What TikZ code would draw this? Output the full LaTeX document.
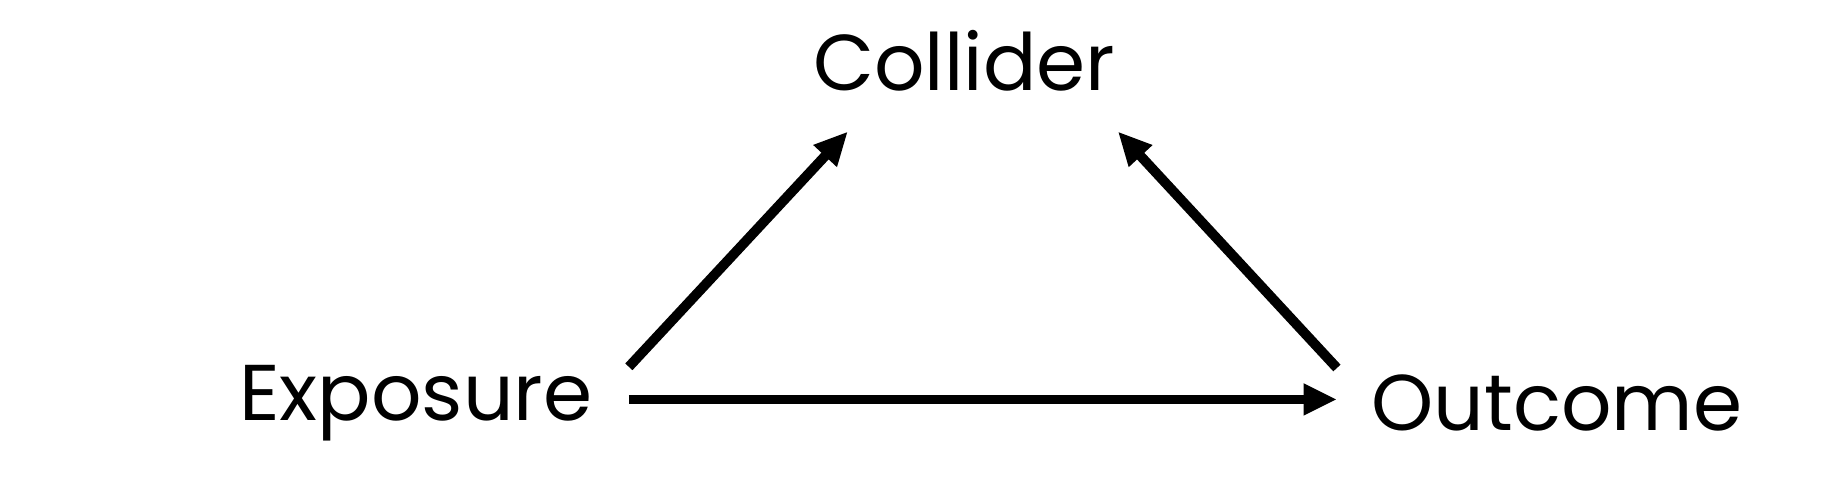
\documentclass[tikz,border=0pt]{standalone}
\usepackage{fontspec}
\setmainfont{Poppins}
\usetikzlibrary{positioning,arrows.meta}

\begin{document}
\begin{tikzpicture}[x=0.02329cm,y=-0.02329cm,
    var/.style={inner sep=0pt,outer sep=0pt,font=\fontsize{45}{54}\selectfont},
    arr/.style={-{Triangle[length=19pt,width=17pt]},line width=5.6pt}]
   \useasboundingbox (0,0) rectangle (1568,412);
   \node[var] (coll) at (828,52) {Collider};
   \node[var] (expo) at (357,346) {Exposure};
   \node[var] (outc) at (1337,346) {Outcome};

   \draw[arr] ([shift={(183,-31)}]expo.center) -- ([shift={(-100,61)}]coll.center);
   \draw[arr] ([shift={(-189,-30)}]outc.center) -- ([shift={(132,61)}]coll.center);
   \draw[arr] ([shift={(183,-3)}]expo.center) -- ([shift={(-189,-3)}]outc.center);
\end{tikzpicture}
\end{document}
